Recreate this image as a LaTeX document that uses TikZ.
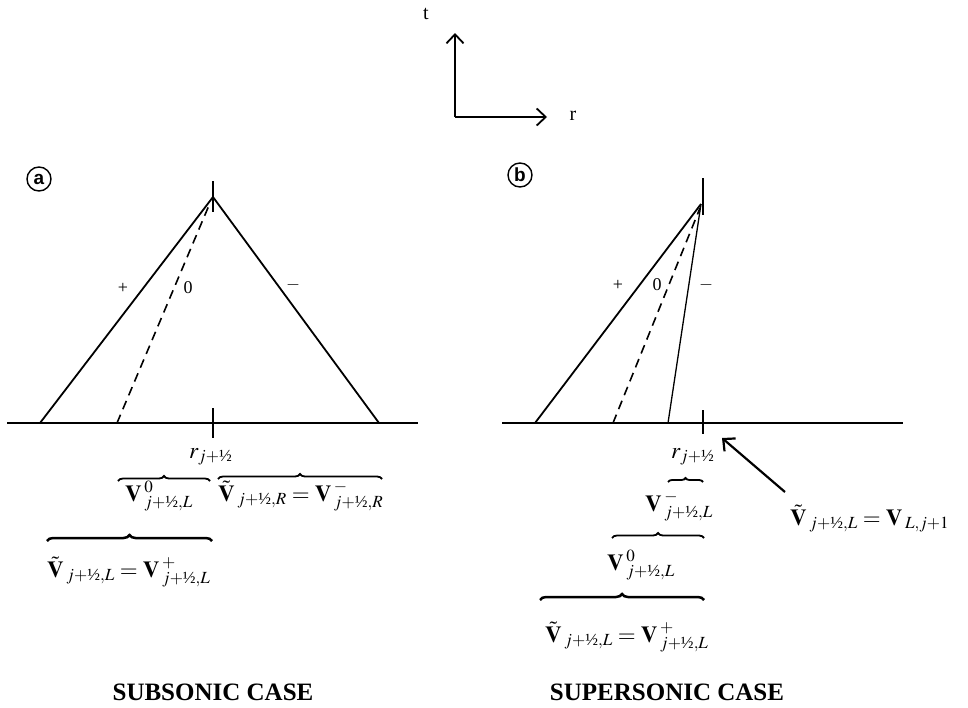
\documentclass[tikz,border=0pt]{standalone}
\usepackage{amsmath}
\usepackage{mathptmx}
\usepackage{fontspec}
\setmainfont{Liberation Serif}
\setsansfont{Liberation Sans}
\usetikzlibrary{arrows.meta,decorations.pathreplacing}
\newcommand{\hlf}{\text{½}}
\begin{document}
\begin{tikzpicture}[x=1pt,y=-1pt,
  ln/.style={line width=1.8pt},
  thinln/.style={line width=1.3pt},
  baseln/.style={line width=2.2pt},
  dsh/.style={line width=1.6pt,dash pattern=on 9pt off 6pt},
  brc/.style={decorate,decoration={brace,amplitude=5pt},line width=1.8pt},
  bigbrc/.style={decorate,decoration={brace,amplitude=6pt},line width=2.5pt},
  lab/.style={inner sep=0pt,anchor=base west,font=\fontsize{23}{26}\selectfont},
  sm/.style={inner sep=0pt,font=\fontsize{18}{20}\selectfont},
  ttl/.style={inner sep=0pt,font=\fontsize{25}{28}\selectfont\bfseries},
  circ/.style={draw,circle,line width=1.4pt,inner sep=0pt,minimum size=24pt,font=\sffamily\bfseries\fontsize{19}{20}\selectfont},
  barb/.style={-{Straight Barb[length=9pt,width=17pt]}}
]
\useasboundingbox (0,0) rectangle (968,707);

% axes
\coordinate (O) at (455,117);
\coordinate (Ot) at (455,33);
\coordinate (Or) at (547,117);
\draw[ln,barb] (O) -- (Ot);
\draw[ln,barb] (O) -- (Or);
\node[sm,font=\fontsize{20}{22}\selectfont] (tl) at (426,14) {t};
\node[sm,font=\fontsize{20}{22}\selectfont] (rl) at (573,116) {r};

% panel labels
\node[circ] (ca) at (39,179) {a};
\node[circ] (cb) at (520,175) {b};

% ---------- panel a ----------
\coordinate (A) at (213,197);
\coordinate (Atop) at (213,181);
\coordinate (Abot) at (213,212);
\draw[ln] (Atop) -- (Abot);
\coordinate (aL) at (7,423);
\coordinate (aR) at (418,423);
\draw[baseln] (aL) -- (aR);
\coordinate (aT1) at (213,408);
\coordinate (aT2) at (213,438);
\draw[ln] (aT1) -- (aT2);
\coordinate (ap) at (40,423);
\coordinate (a0) at (117,423);
\coordinate (a0t) at (210,203);
\coordinate (am) at (379,423);
\draw[ln] (ap) -- (A) -- (am);
\draw[dsh] (a0) -- (a0t);
\node[sm] (aplus) at (123,288) {+};
\node[sm] (azero) at (188,288) {0};
\node[sm] (aminus) at (293,285) {$-$};

\node[lab] (ar) at (189,458) {$r_{j+\hlf}$};
\draw[brc] (118,481) -- (210,481);
\draw[brc] (218,479) -- (382,479);
\node[lab] (a0lab) at (125,501) {$\mathbf{V}\,{}^{0}_{j+\hlf,L}$};
\node[lab] (aRlab) at (218,501) {$\tilde{\mathbf{V}}\,{}_{j+\hlf,R}=\mathbf{V}\,{}^{-}_{j+\hlf,R}$};
\draw[bigbrc] (47,541) -- (212,541);
\node[lab] (aLlab) at (47,577) {$\tilde{\mathbf{V}}\,{}_{j+\hlf,L}=\mathbf{V}\,{}^{+}_{j+\hlf,L}$};

% ---------- panel b ----------
\coordinate (B) at (701,204);
\coordinate (Btop) at (703,178);
\coordinate (Bbot) at (703,215);
\draw[ln] (Btop) -- (Bbot);
\coordinate (bL) at (502,423);
\coordinate (bR) at (903,423);
\draw[baseln] (bL) -- (bR);
\coordinate (bT1) at (703,410);
\coordinate (bT2) at (703,434);
\draw[ln] (bT1) -- (bT2);
\coordinate (bp) at (535,423);
\coordinate (b0) at (613,423);
\coordinate (b0t) at (700,208);
\coordinate (bm) at (668,423);
\draw[ln] (bp) -- (B);
\draw[dsh] (b0) -- (b0t);
\draw[thinln] (bm) -- (B);
\node[sm] (bplus) at (618,285) {+};
\node[sm] (bzero) at (657,285) {0};
\node[sm] (bminus) at (706,285) {$-$};

\node[lab] (br) at (671,458) {$r_{j+\hlf}$};
\node[lab] (bVL) at (790,525) {$\tilde{\mathbf{V}}\,{}_{j+\hlf,L}=\mathbf{V}\,{}_{L,j+1}$};
\coordinate (arS) at (785,492);
\coordinate (arE) at (722,438);
\draw[line width=2.2pt,barb] (arS) -- (arE);

\draw[brc,decoration={amplitude=4pt}] (668,482) -- (703,482);
\node[lab] (bmlab) at (645,511) {$\mathbf{V}\,{}^{-}_{j+\hlf,L}$};
\draw[brc] (612,538) -- (704,538);
\node[lab] (b0lab) at (607,570) {$\mathbf{V}\,{}^{0}_{j+\hlf,L}$};
\draw[bigbrc] (540,600) -- (704,600);
\node[lab] (bLlab) at (545,642) {$\tilde{\mathbf{V}}\,{}_{j+\hlf,L}=\mathbf{V}\,{}^{+}_{j+\hlf,L}$};

% titles
\node[ttl] (t1) at (213,692) {SUBSONIC CASE};
\node[ttl] (t2) at (667,692) {SUPERSONIC CASE};
\end{tikzpicture}
\end{document}
